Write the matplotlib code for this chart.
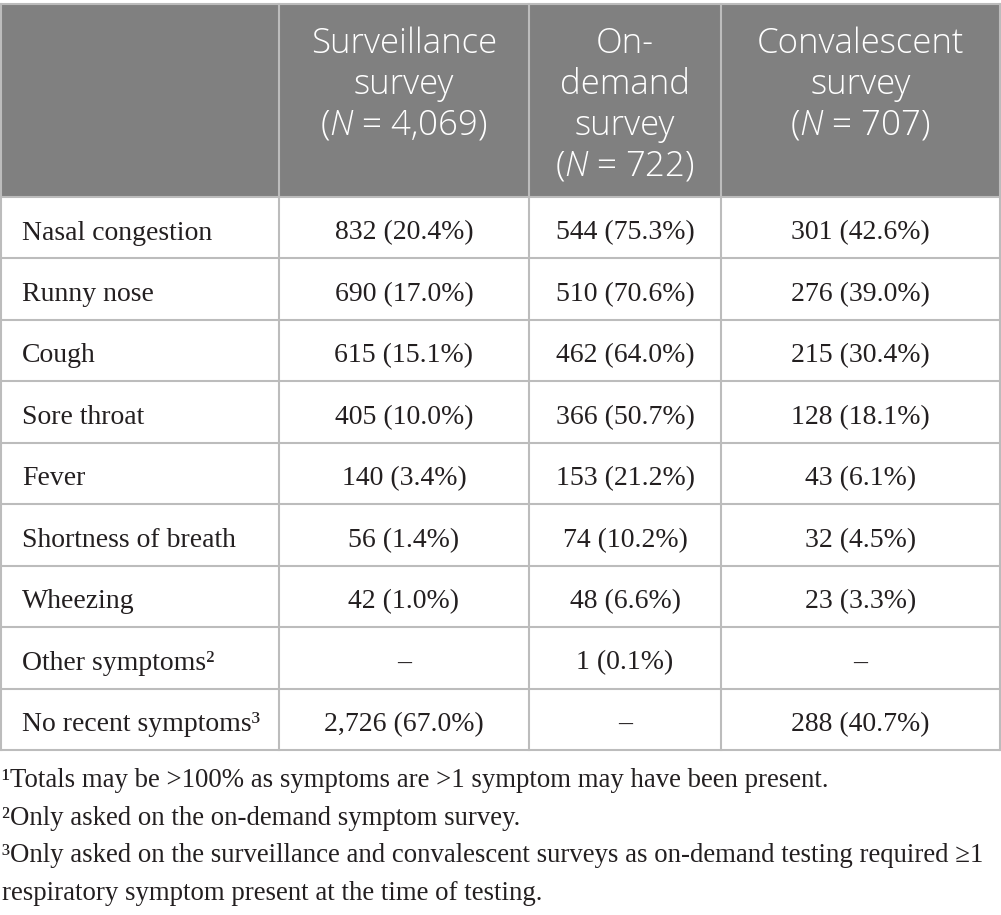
import matplotlib
matplotlib.use("Agg")
import matplotlib.pyplot as plt

plt.rcParams['mathtext.fontset'] = 'custom'
plt.rcParams['mathtext.rm'] = 'Open Sans:weight=light'
plt.rcParams['mathtext.it'] = 'Open Sans:style=italic:weight=light'

# table data
symptoms = ["Nasal congestion", "Runny nose", "Cough", "Sore throat", "Fever",
            "Shortness of breath", "Wheezing", "Other symptoms\u00b2",
            "No recent symptoms\u00b3"]
surv_n = [832, 690, 615, 405, 140, 56, 42, None, 2726]
surv_pct = [20.4, 17.0, 15.1, 10.0, 3.4, 1.4, 1.0, None, 67.0]
od_n = [544, 510, 462, 366, 153, 74, 48, 1, None]
od_pct = [75.3, 70.6, 64.0, 50.7, 21.2, 10.2, 6.6, 0.1, None]
conv_n = [301, 276, 215, 128, 43, 32, 23, None, 288]
conv_pct = [42.6, 39.0, 30.4, 18.1, 6.1, 4.5, 3.3, None, 40.7]

headers = [["Surveillance", "survey", "($N$ = 4,069)"],
           ["On-", "demand", "survey", "($N$ = 722)"],
           ["Convalescent", "survey", "($N$ = 707)"]]

footnotes = ["\u00b9Totals may be >100% as symptoms are >1 symptom may have been present.",
             "\u00b2Only asked on the on-demand symptom survey.",
             "\u00b3Only asked on the surveillance and convalescent surveys as on-demand testing required \u22651",
             "respiratory symptom present at the time of testing."]


def cell(n, p):
    if n is None:
        return "\u2013"
    return f"{n:,} ({p:.1f}%)"


fig = plt.figure(figsize=(10.01, 9.15), dpi=100)
ax = fig.add_axes([0, 0, 1, 1])
ax.set_xlim(0, 1001)
ax.set_ylim(915, 0)
ax.axis('off')

col_x = [1, 279, 529, 721, 1000]
top, head_bot, bottom = 4, 197, 750
row_h = (bottom - head_bot) / len(symptoms)
grid = '#bcbcbc'
txt = '#231f20'

# header background
ax.add_patch(plt.Rectangle((col_x[0], top), col_x[-1] - col_x[0], head_bot - top,
                           facecolor='#808080', edgecolor='none', zorder=0))

# grid lines
ax.plot([col_x[0], col_x[-1]], [top, top], color=grid, lw=1.5)
for i in range(len(symptoms) + 1):
    y = head_bot + i * row_h
    ax.plot([col_x[0], col_x[-1]], [y, y], color=grid, lw=1.5)
for x in col_x:
    ax.plot([x, x], [top, bottom], color=grid, lw=1.5)

# header text
for j, lines in enumerate(headers):
    cx = (col_x[j + 1] + col_x[j + 2]) / 2
    for k, line in enumerate(lines):
        ax.text(cx, 53 + k * 40.8, line, ha='center', va='baseline',
                fontsize=25, family='Open Sans', fontweight='light', color='white')

# body
cols = [(surv_n, surv_pct), (od_n, od_pct), (conv_n, conv_pct)]
for i, name in enumerate(symptoms):
    yb = head_bot + i * row_h + 42.5
    ax.text(22, yb, name, ha='left', va='baseline', fontsize=20,
            family='Liberation Serif', color=txt)
    for j, (ns, ps) in enumerate(cols):
        cx = (col_x[j + 1] + col_x[j + 2]) / 2
        ax.text(cx, yb, cell(ns[i], ps[i]), ha='center', va='baseline',
                fontsize=20, family='Liberation Serif', color=txt)

# footnotes
for k, note in enumerate(footnotes):
    ax.text(2, 787 + k * 37.6, note, ha='left', va='baseline', fontsize=19.3,
            family='Liberation Serif', color=txt)

fig.savefig('out.png', dpi=100)
